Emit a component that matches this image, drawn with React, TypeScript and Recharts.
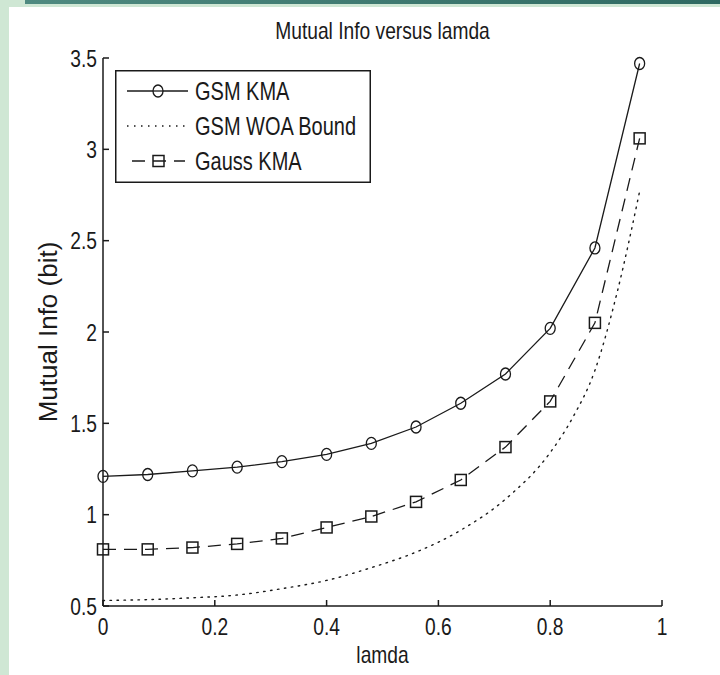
import { LineChart, Line, XAxis, YAxis, Legend } from "recharts"

// lamda sample points used by the two KMA curves
const lamda = [0, 0.08, 0.16, 0.24, 0.32, 0.4, 0.48, 0.56, 0.64, 0.72, 0.8, 0.88, 0.96]
const gsmKma = [1.21, 1.22, 1.24, 1.26, 1.29, 1.33, 1.39, 1.48, 1.61, 1.77, 2.02, 2.46, 3.47]
const gaussKma = [0.81, 0.81, 0.82, 0.84, 0.87, 0.93, 0.99, 1.07, 1.19, 1.37, 1.62, 2.05, 3.06]

// the bound is drawn without markers, read at a few more points
const boundLamda = [0, 0.08, 0.16, 0.24, 0.32, 0.4, 0.48, 0.56, 0.64, 0.72, 0.8, 0.84, 0.88, 0.92, 0.96]
const gsmWoaBound = [0.53, 0.535, 0.545, 0.56, 0.595, 0.64, 0.71, 0.795, 0.915, 1.085, 1.34, 1.53, 1.79, 2.22, 2.77]

const xTicks = [0, 0.2, 0.4, 0.6, 0.8, 1]
const yTicks = [0.5, 1, 1.5, 2, 2.5, 3, 3.5]

const seriesNames = ["GSM KMA", "GSM WOA Bound", "Gauss KMA"]

const FONT = "'Liberation Sans', Arial, sans-serif"
const INK = "#1a1a1a"
const SQUEEZE = 0.8 // the screenshot is squashed sideways, so the text looks narrow

const xs = Array.from(new Set([...lamda, ...boundLamda])).sort((a, b) => a - b)
const chartData = xs.map((x) => {
  const i = lamda.indexOf(x)
  const j = boundLamda.indexOf(x)
  return {
    x,
    gsm: i >= 0 ? gsmKma[i] : null,
    gauss: i >= 0 ? gaussKma[i] : null,
    bound: j >= 0 ? gsmWoaBound[j] : null,
  }
})

function NarrowText({ x, y, anchor = "start", dy, children, size = 24 }: any) {
  return (
    <g transform={`translate(${x} ${y}) scale(${SQUEEZE} 1)`}>
      <text x={0} y={0} dy={dy} textAnchor={anchor} fontSize={size} fontFamily={FONT} fill={INK}>
        {children}
      </text>
    </g>
  )
}

const XTick = (props: any) => (
  <NarrowText x={props.x} y={props.y} anchor="middle" dy="0.71em">
    {props.payload.value}
  </NarrowText>
)

const YTick = (props: any) => (
  <NarrowText x={props.x} y={props.y} anchor="end" dy="0.36em">
    {props.payload.value}
  </NarrowText>
)

const CircleDot = (props: any) => {
  const { cx, cy, payload } = props
  if (payload?.gsm == null || cx == null || cy == null) return <g key={props.index} />
  return <ellipse key={props.index} cx={cx} cy={cy} rx={5} ry={6} fill="none" stroke={INK} strokeWidth={1.3} />
}

const SquareDot = (props: any) => {
  const { cx, cy, payload } = props
  if (payload?.gauss == null || cx == null || cy == null) return <g key={props.index} />
  return <rect key={props.index} x={cx - 5.5} y={cy - 5.5} width={11} height={11} fill="none" stroke={INK} strokeWidth={1.5} />
}

function MatlabLegend() {
  return (
    <svg width={256} height={113} style={{ display: "block" }}>
      <rect x={0.75} y={0.75} width={254.5} height={111.5} fill="#fff" stroke={INK} strokeWidth={1.5} />
      {/* GSM KMA */}
      <line x1={12} y1={21} x2={73} y2={21} stroke={INK} strokeWidth={1.3} />
      <ellipse cx={43} cy={21} rx={5} ry={6} fill="#fff" stroke={INK} strokeWidth={1.3} />
      <line x1={38} y1={21} x2={48} y2={21} stroke={INK} strokeWidth={1.3} />
      <NarrowText x={80} y={30} size={25}>{seriesNames[0]}</NarrowText>
      {/* GSM WOA Bound */}
      <line x1={12} y1={56} x2={73} y2={56} stroke={INK} strokeWidth={1.3} strokeDasharray="1.5 5.5" />
      <NarrowText x={80} y={65} size={25}>{seriesNames[1]}</NarrowText>
      {/* Gauss KMA */}
      <line x1={15} y1={91} x2={70} y2={91} stroke={INK} strokeWidth={1.3} strokeDasharray="13 8" strokeDashoffset={-2} />
      <rect x={38} y={85.5} width={11} height={11} fill="none" stroke={INK} strokeWidth={1.5} />
      <NarrowText x={80} y={100} size={25}>{seriesNames[2]}</NarrowText>
    </svg>
  )
}

export default function App() {
  return (
    <div style={{ position: "absolute", left: 0, top: 0, width: 720, height: 675, background: "#fff", overflow: "hidden" }}>
      {/* slide frame */}
      <div style={{ position: "absolute", left: 0, top: 0, width: 720, height: 7, background: "#cfe7d4" }} />
      <div style={{ position: "absolute", left: 25, top: 0, width: 695, height: 4, background: "linear-gradient(90deg, #4f8a80, #2f6a62)" }} />
      <div style={{ position: "absolute", left: 0, top: 0, width: 9, height: 675, background: "#cfe7d4" }} />

      <div
        style={{
          position: "absolute",
          left: 103,
          top: 17,
          width: 559,
          textAlign: "center",
          fontFamily: FONT,
          fontSize: 24,
          lineHeight: "28px",
          color: INK,
          transform: `scaleX(${SQUEEZE})`,
          transformOrigin: "50% 50%",
        }}
      >
        Mutual Info versus lamda
      </div>

      <div style={{ position: "absolute", left: 0, top: 0 }}>
        <LineChart width={720} height={675} data={chartData} margin={{ top: 58, right: 58, left: 43, bottom: 39 }}>
          <XAxis
            dataKey="x"
            type="number"
            domain={[0, 1]}
            ticks={xTicks}
            interval={0}
            height={30}
            stroke={INK}
            strokeWidth={1.5}
            tickSize={-6}
            tickMargin={18}
            tick={<XTick />}
            label={(p: any) => {
              const vb = p.viewBox
              return (
                <NarrowText x={vb.x + vb.width / 2} y={vb.y + vb.height + 10} anchor="middle" dy="0.71em">
                  lamda
                </NarrowText>
              )
            }}
          />
          <XAxis
            xAxisId="top"
            orientation="top"
            dataKey="x"
            type="number"
            domain={[0, 1]}
            ticks={xTicks}
            interval={0}
            height={0}
            stroke={INK}
            strokeWidth={1.5}
            tickSize={-6}
            tick={false}
          />
          <YAxis
            type="number"
            domain={[0.5, 3.5]}
            ticks={yTicks}
            interval={0}
            width={60}
            stroke={INK}
            strokeWidth={1.5}
            tickSize={-6}
            tickMargin={12}
            tick={<YTick />}
            label={{
              value: "Mutual Info (bit)",
              angle: -90,
              position: "insideLeft",
              offset: 5,
              style: { textAnchor: "middle", fill: INK, fontSize: 26, fontFamily: FONT },
            }}
          />
          <YAxis
            yAxisId="right"
            orientation="right"
            type="number"
            domain={[0.5, 3.5]}
            ticks={yTicks}
            interval={0}
            width={0}
            stroke={INK}
            strokeWidth={1.5}
            tickSize={-6}
            tick={false}
          />
          <Legend
            layout="vertical"
            align="center"
            verticalAlign="middle"
            wrapperStyle={{ position: "absolute", left: 115, top: 70, width: 256, height: 113 }}
            content={() => <MatlabLegend />}
          />
          <Line
            type="monotone"
            dataKey="bound"
            name={seriesNames[1]}
            stroke={INK}
            strokeWidth={1.4}
            strokeDasharray="1.5 5.5"
            strokeLinecap="round"
            dot={false}
            connectNulls
            isAnimationActive={false}
          />
          <Line
            type="linear"
            dataKey="gauss"
            name={seriesNames[2]}
            stroke={INK}
            strokeWidth={1.3}
            strokeDasharray="13 8"
            dot={<SquareDot />}
            activeDot={false}
            connectNulls
            isAnimationActive={false}
          />
          <Line
            type="linear"
            dataKey="gsm"
            name={seriesNames[0]}
            stroke={INK}
            strokeWidth={1.3}
            dot={<CircleDot />}
            activeDot={false}
            connectNulls
            isAnimationActive={false}
          />
        </LineChart>
      </div>
    </div>
  )
}
